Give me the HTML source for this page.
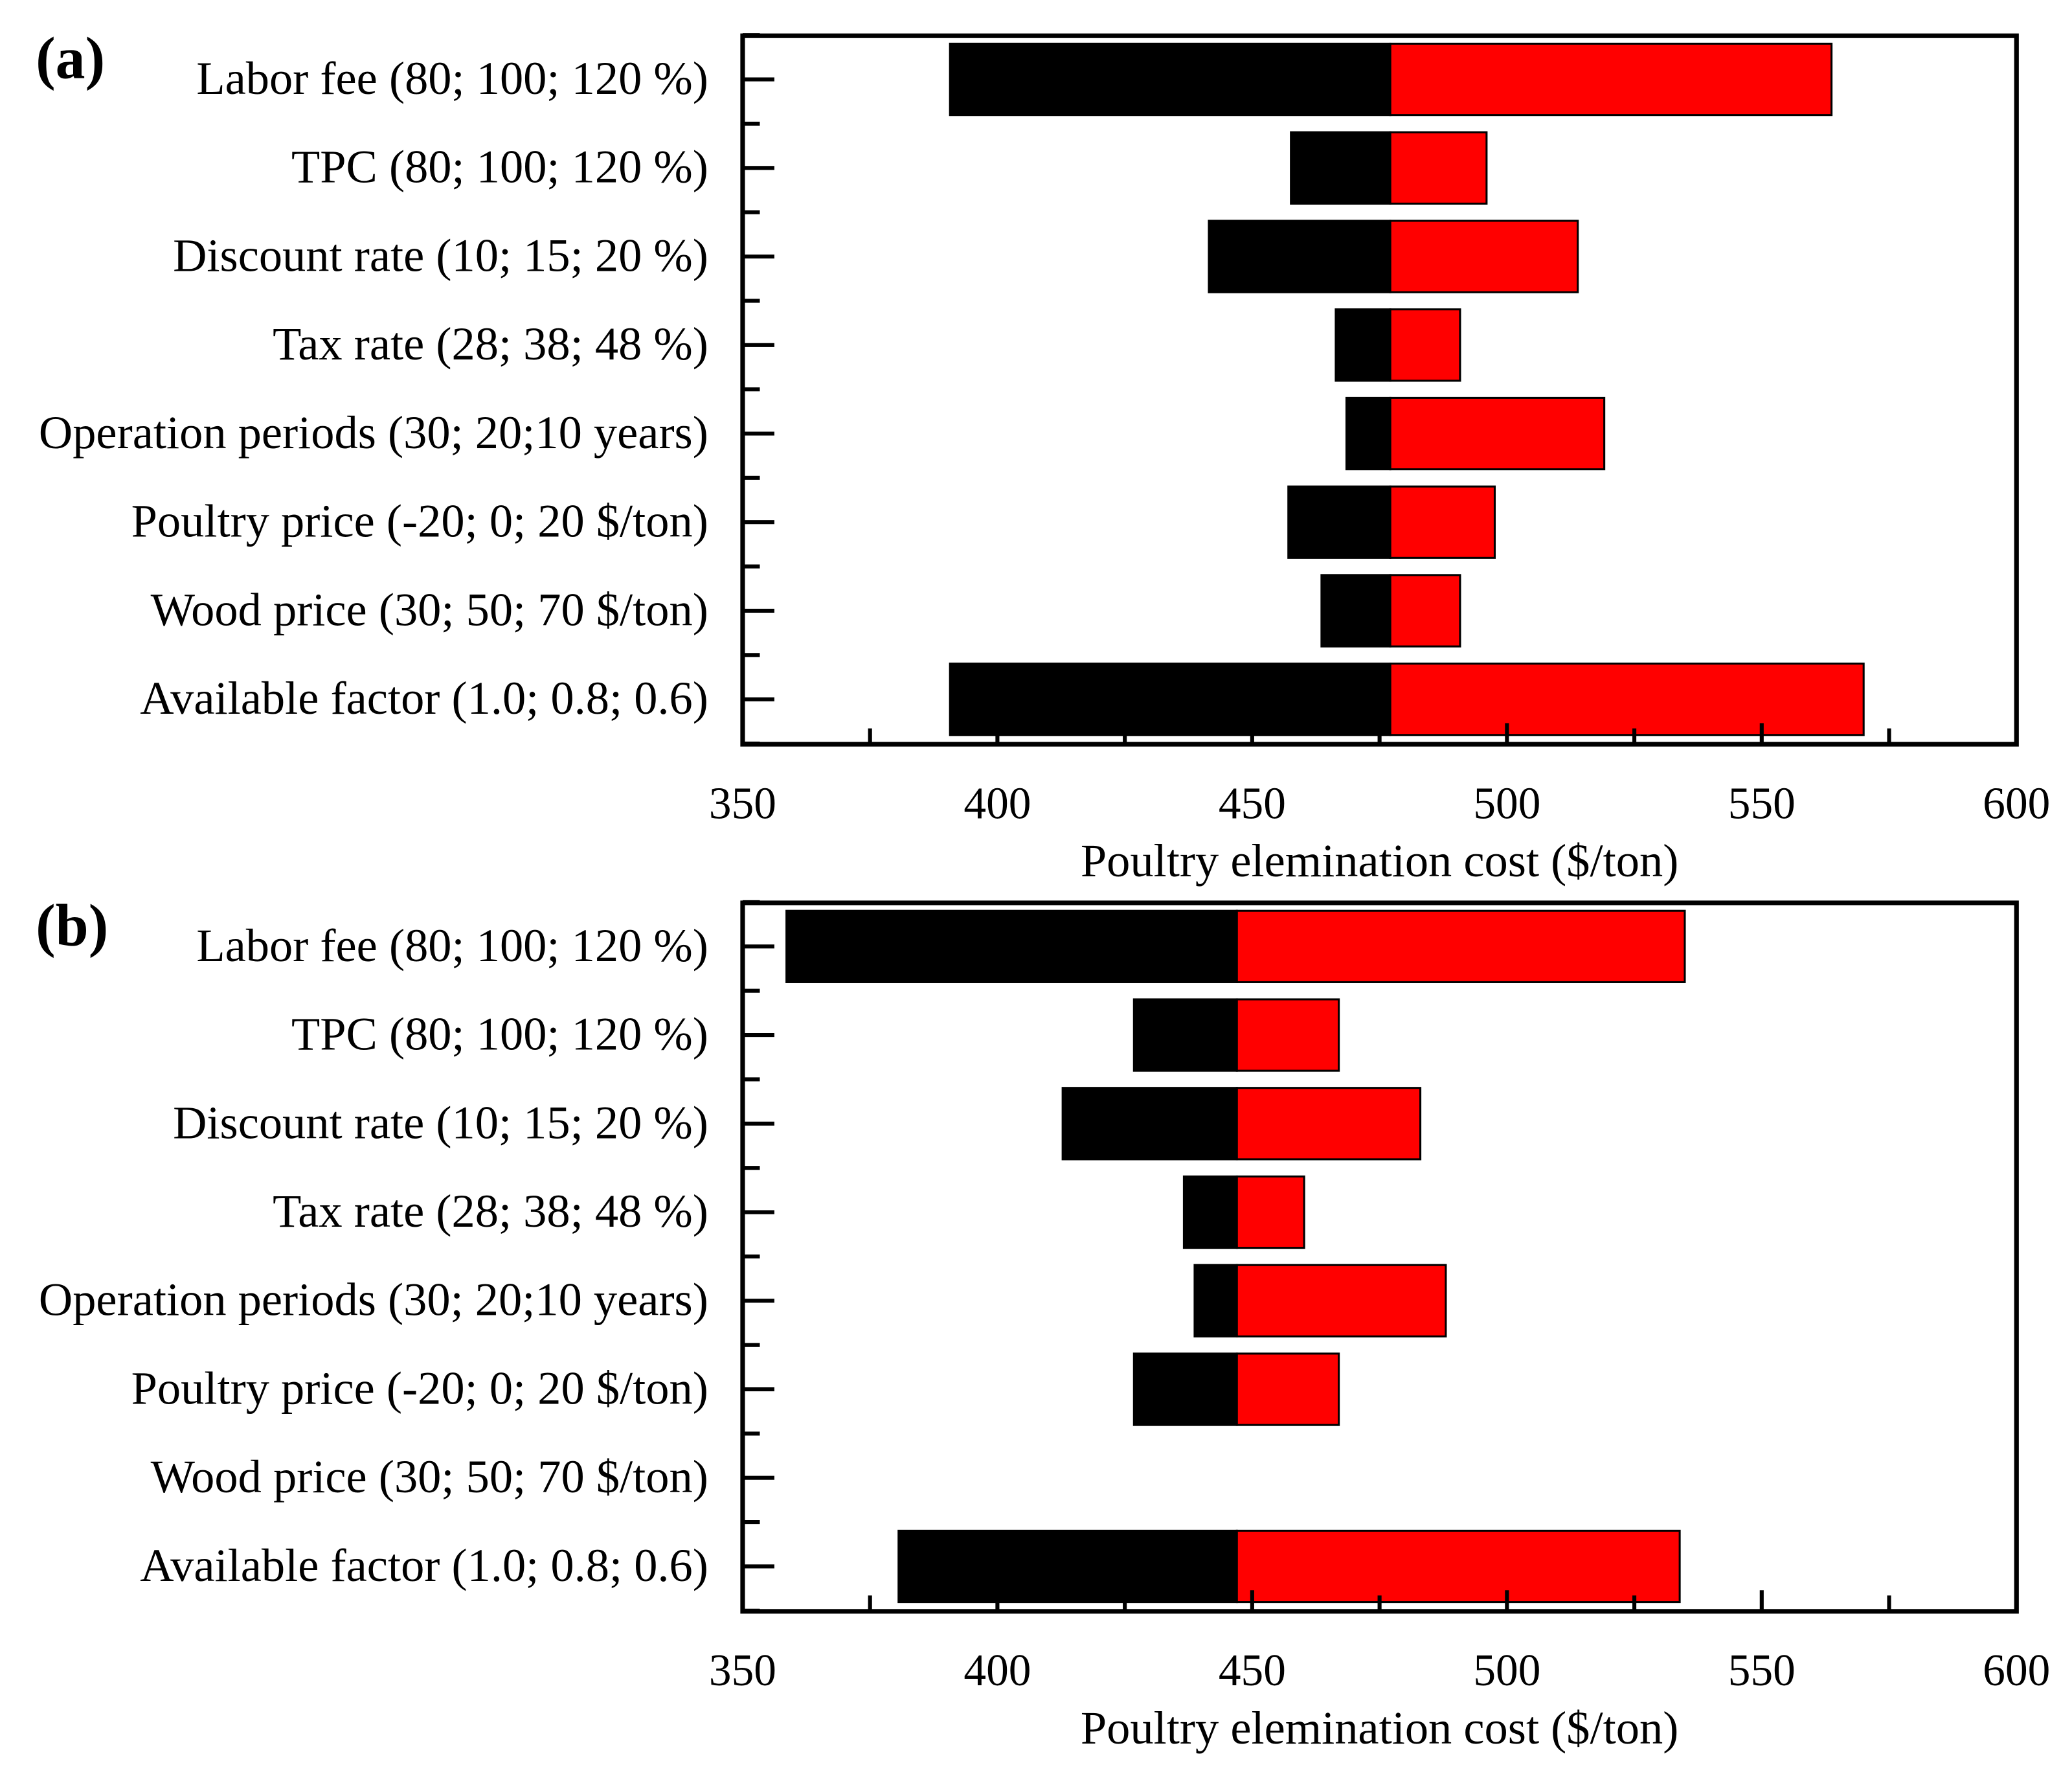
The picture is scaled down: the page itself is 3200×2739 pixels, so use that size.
<!DOCTYPE html>
<html><head><meta charset="utf-8"><style>
html,body{margin:0;padding:0;background:#fff}
svg{display:block}
text{font-family:"Liberation Serif",serif;fill:#000}
</style></head><body>
<svg id="chart" width="3200" height="2739" viewBox="0 0 1568 1342" xmlns="http://www.w3.org/2000/svg"></svg>
<script>
const categories = ["Labor fee (80; 100; 120 %)","TPC (80; 100; 120 %)","Discount rate (10; 15; 20 %)","Tax rate (28; 38; 48 %)","Operation periods (30; 20;10 years)","Poultry price (-20; 0; 20 $/ton)","Wood price (30; 50; 70 $/ton)","Available factor (1.0; 0.8; 0.6)"];
const baseA = 477.1;
const lowA = [390.7,457.6,441.5,466.4,468.5,457.1,463.6,390.7];
const highA = [563.7,496.0,513.9,490.8,519.1,497.6,490.8,570.0];
const baseB = 447.0;
const lowB = [358.6,426.8,412.8,436.6,438.7,426.8,447.0,380.6];
const highB = [534.9,467.0,483.0,460.2,488.0,467.0,447.0,533.9];
const xTicks = [350,400,450,500,550,600];
const xMinor = [375,425,475,525,575];
const NS="http://www.w3.org/2000/svg";
const svg=document.getElementById('chart');
function mk(tag,attrs,parent){const e=document.createElementNS(NS,tag);for(const k in attrs)e.setAttribute(k,attrs[k]);(parent||svg).appendChild(e);return e;}
function panel(id,top,base,lows,highs,letter){
  const g=mk('g',{});
  
  
  const L=562,R=1526,T=top,B=top+536;
  const x=v=>L+(v-350)/250*(R-L);
  const rowH=67, y0=T+33;
  const y=i=>y0+i*rowH;
  categories.forEach((c,i)=>{
    if(lows[i]<base){const r=mk('rect',{x:x(lows[i]),y:y(i)-27,width:x(base)-x(lows[i]),height:54,fill:'#000',stroke:'#000','stroke-width':1.5},g);
      
      }
    if(highs[i]>base){const r=mk('rect',{x:x(base),y:y(i)-27,width:x(highs[i])-x(base),height:54,fill:'#ff0000',stroke:'#000','stroke-width':1.5},g);
      
      }
    const t=mk('text',{x:536,y:y(i)+11,'text-anchor':'end','font-size':35.5},g);t.textContent=c;
    
    
    mk('line',{x1:L,x2:L+24,y1:y(i),y2:y(i),stroke:'#000','stroke-width':3},g);
    mk('line',{x1:L,x2:L+13,y1:y(i)+rowH/2,y2:y(i)+rowH/2,stroke:'#000','stroke-width':3},g);
  });
  mk('line',{x1:L,x2:L+13,y1:y0-rowH/2,y2:y0-rowH/2,stroke:'#000','stroke-width':3},g);
  xTicks.forEach(v=>{mk('line',{x1:x(v),x2:x(v),y1:B,y2:B-16,stroke:'#000','stroke-width':3},g);
    const t=mk('text',{x:x(v),y:B+56,'text-anchor':'middle','font-size':34},g);t.textContent=v;
    
    });
  xMinor.forEach(v=>mk('line',{x1:x(v),x2:x(v),y1:B,y2:B-12,stroke:'#000','stroke-width':3},g));
  const box=mk('rect',{x:L,y:T,width:R-L,height:B-T,fill:'none',stroke:'#000','stroke-width':3.5},g);
  
  
  const at=mk('text',{x:1044,y:B+100,'text-anchor':'middle','font-size':35.5},g);at.textContent='Poultry elemination cost ($/ton)';
  
  
  const pl=mk('text',{x:27,y:T+32,'font-size':45,'font-weight':'bold'},g);pl.textContent=letter;
  
  
}
panel('a',27,baseA,lowA,highA,'(a)');
panel('b',683,baseB,lowB,highB,'(b)');
</script>
</body></html>
